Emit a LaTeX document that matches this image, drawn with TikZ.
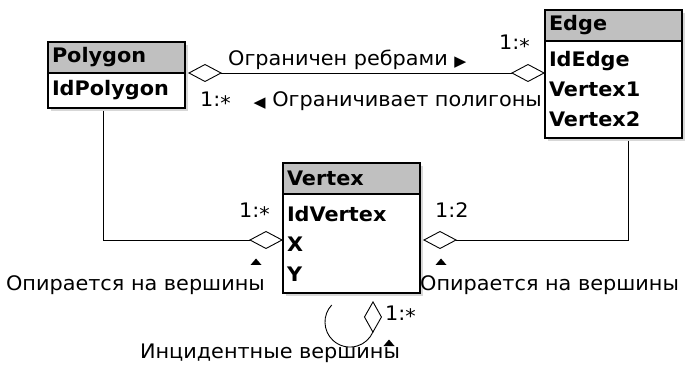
\documentclass[tikz,border=0pt]{standalone}
\usepackage{fontspec}
\setmainfont{DejaVu Sans}[FakeStretch=1.04]
\usetikzlibrary{positioning,calc,arrows.meta,shadows}

\definecolor{headgray}{RGB}{192,192,192}
\definecolor{shadowgray}{RGB}{175,175,175}
\newcommand{\entfont}{\fontsize{20}{30}\selectfont\bfseries}
\newcommand{\lblfont}{\fontsize{20}{24}\selectfont}
\newcommand{\many}{\raisebox{-0.35ex}{*}}
\newcommand{\dirtri}[1]{{\fontsize{15}{15}\selectfont\raisebox{-0.1ex}{#1}}}

\begin{document}
\begin{tikzpicture}[x=1pt, y=1pt,
    entity/.style={draw, line width=1.3pt, outer sep=0pt, minimum width=137pt,
        text width=129pt, inner xsep=4pt, inner ysep=0pt, align=left, font=\entfont,
        drop shadow={shadow xshift=3pt, shadow yshift=-3pt, fill=shadowgray}},
    head/.style={entity, fill=headgray, minimum height=31pt},
    attrs/.style={entity, fill=white},
    rel/.style={line width=0.9pt},
    owner/.style={rel, -{Diamond[open, length=34pt, width=18pt]}},
    both/.style={rel, {Diamond[open, length=34pt, width=18pt]}-{Diamond[open, length=34pt, width=18pt]}},
    lbl/.style={font=\lblfont, inner sep=0pt},
    dirup/.pic={\fill (-5.5,-3) -- (5.5,-3) -- (0,3.5) -- cycle;}]
    \useasboundingbox (0,0) rectangle (695,364);

    % Entities
    \node[head] (polygon) at (116.5,306.5) {Polygon};
    \node[attrs, minimum height=35pt, below=0pt of polygon] (polygonAttr) {IdPolygon};

    \node[head] (edge) at (613.5,338.5) {Edge};
    \node[attrs, minimum height=97pt, below=0pt of edge] (edgeAttr) {IdEdge\\Vertex1\\Vertex2};

    \node[head] (vertex) at (351.5,185.5) {Vertex};
    \node[attrs, minimum height=99pt, below=0pt of vertex] (vertexAttr) {IdVertex\\X\\Y};

    % Relationships
    \draw[both] ($(polygon.south east)+(3,0)$) -- (polygon.south east -| edgeAttr.west);
    \draw[owner] ([xshift=-13.5pt,yshift=-3pt]polygonAttr.south) |- ([yshift=3.5pt]vertexAttr.west);
    \draw[owner] ([xshift=14.5pt,yshift=-3pt]edgeAttr.south) |- ([xshift=3pt,yshift=3.5pt]vertexAttr.east);

    % Recursive link
    \coordinate (loopEnd) at (331.7,59);
    \draw[rel, -{Diamond[open, length=32pt, width=18pt]}] (loopEnd)
        arc[start angle=137, end angle=336.5, radius=25] -- ([xshift=21.5pt,yshift=-8pt]vertexAttr.south);

    % Labels
    \node[lbl, anchor=base west] (boundedBy) at (228,298) {Ограничен ребрами \dirtri{▶}};
    \node[lbl, anchor=base east] (bounds) at (542,257) {\dirtri{◀} Ограничивает полигоны};
    \node[lbl, anchor=base east] (cardEdge) at (530,314) {1:\many};
    \node[lbl, anchor=base west] (cardPolygon) at (200,257) {1:\many};
    \node[lbl, anchor=base east] (cardLeft) at (270,146) {1:\many};
    \node[lbl, anchor=base west] (cardRight) at (435,146) {1:2};
    \node[lbl, anchor=base west] (cardLoop) at (385,44) {1:\many};
    \node[lbl, anchor=base east] (restsLeft) at (265,74) {Опирается на вершины};
    \node[lbl, anchor=base west] (restsRight) at (420,74) {Опирается на вершины};
    \node[lbl, anchor=base] (incident) at (270,6) {Инцидентные вершины};

    % Direction marks
    \pic at (256,102) {dirup};
    \pic at (441,102) {dirup};
    \pic at (389,21) {dirup};
\end{tikzpicture}
\end{document}
